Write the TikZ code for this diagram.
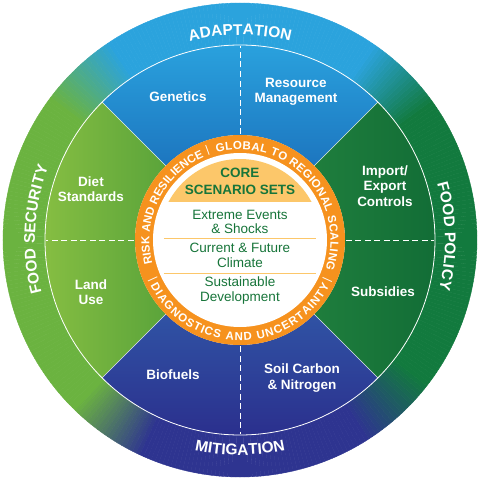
\documentclass[tikz,border=0pt]{standalone}
\usepackage{fontspec}
\setmainfont{Liberation Sans}
\usetikzlibrary{decorations.text}
\definecolor{B1}{HTML}{2BA3DD}
\definecolor{G1}{HTML}{6BB340}
\definecolor{G2}{HTML}{127A3E}
\definecolor{B2}{HTML}{2E3490}
\definecolor{topA}{HTML}{2AA2DE}
\definecolor{topB}{HTML}{1C74BE}
\definecolor{leftA}{HTML}{86BE42}
\definecolor{leftB}{HTML}{59A33A}
\definecolor{rightA}{HTML}{1F7E3D}
\definecolor{rightB}{HTML}{126D36}
\definecolor{botA}{HTML}{3054A5}
\definecolor{botB}{HTML}{2B2F8D}
\definecolor{orng}{HTML}{F6921E}
\definecolor{yel}{HTML}{FCC76A}
\definecolor{dgreen}{HTML}{17753A}
\tikzset{
  sectxt/.style={text=white, font=\bfseries\fontsize{13.5}{15.5}\selectfont, align=center, inner sep=0pt},
  coretxt/.style={text=dgreen, font=\bfseries\fontsize{13.5}{17}\selectfont, align=center, inner sep=0pt},
  ctrtxt/.style={text=dgreen, font=\fontsize{13.5}{14.5}\selectfont, align=center, inner sep=0pt},
  septxt/.style={text=white, font=\fontsize{11}{13}\selectfont, inner sep=0pt},
  divline/.style={white, line width=0.6pt, opacity=0.8},
  dashline/.style={white, line width=0.8pt, dash pattern=on 6pt off 3.5pt},
}
\begin{document}
\begin{tikzpicture}[x=1pt,y=1pt]
\useasboundingbox (-240,-240) rectangle (240,240);
% outer ring with angular colour blend
\foreach \a in {0,...,359}{
  \ifnum\a<35 \colorlet{sl}{G2}\else
  \ifnum\a<55 \pgfmathtruncatemacro\p{(\a-35)*5}\colorlet{sl}{B1!\p!G2}\else
  \ifnum\a<123 \colorlet{sl}{B1}\else
  \ifnum\a<143 \pgfmathtruncatemacro\p{(\a-123)*5}\colorlet{sl}{G1!\p!B1}\else
  \ifnum\a<225 \colorlet{sl}{G1}\else
  \ifnum\a<245 \pgfmathtruncatemacro\p{(\a-225)*5}\colorlet{sl}{B2!\p!G1}\else
  \ifnum\a<302 \colorlet{sl}{B2}\else
  \ifnum\a<322 \pgfmathtruncatemacro\p{(\a-302)*5}\colorlet{sl}{G2!\p!B2}\else
  \colorlet{sl}{G2}\fi\fi\fi\fi\fi\fi\fi\fi
  \fill[sl, draw=sl, line width=0.4pt] (\a:195) -- (\a:237) arc[start angle=\a, end angle=\a+1, radius=237] -- (\a+1:195) arc[start angle=\a+1, end angle=\a, radius=195] -- cycle;
}
% inner sectors
\begin{scope}
\clip (45:105) -- (45:195) arc[start angle=45,end angle=135,radius=195] -- (135:105) arc[start angle=135,end angle=45,radius=105] -- cycle;
\shade[top color=topA, bottom color=topB] (-200,70) rectangle (200,197);
\end{scope}
\begin{scope}
\clip (135:105) -- (135:195) arc[start angle=135,end angle=225,radius=195] -- (225:105) arc[start angle=225,end angle=135,radius=105] -- cycle;
\shade[left color=leftA, right color=leftB] (-197,-200) rectangle (-70,200);
\end{scope}
\begin{scope}
\clip (-45:105) -- (-45:195) arc[start angle=-45,end angle=45,radius=195] -- (45:105) arc[start angle=45,end angle=-45,radius=105] -- cycle;
\shade[left color=rightA, right color=rightB] (70,-200) rectangle (197,200);
\end{scope}
\begin{scope}
\clip (225:105) -- (225:195) arc[start angle=225,end angle=315,radius=195] -- (315:105) arc[start angle=315,end angle=225,radius=105] -- cycle;
\shade[top color=botA, bottom color=botB] (-200,-197) rectangle (200,-70);
\end{scope}
% sector divisions
\foreach \a in {45,135,225,315}{\draw[divline] (\a:104) -- (\a:195);}
\foreach \a in {0,90,180,270}{\draw[dashline] (\a:106) -- (\a:194);}
\draw[white, line width=0.8pt] (0,0) circle (195);
% core
\fill[orng] (0,0) circle (105);
\fill[white] (0,0) circle (87);
\begin{scope}
\clip (0,0) circle (81);
\fill[yel] (-90,38) rectangle (90,90);
\end{scope}
\draw[yel, line width=1pt] (-76,2) -- (76,2);
\draw[yel, line width=1pt] (-76,-33) -- (76,-33);
% orange ring texts
\path[decorate, decoration={text along path, text color=white, text align=fit to path,
  text={|\bfseries\fontsize{11.5}{13}\selectfont|RISK AND RESILIENCE}}]
  (195:90.5) arc[start angle=195, end angle=113.5, radius=90.5];
\path[decorate, decoration={text along path, text color=white, text align=fit to path,
  text={|\bfseries\fontsize{11.5}{13}\selectfont|GLOBAL TO REGIONAL SCALING}}]
  (105:90.5) arc[start angle=105, end angle=-19, radius=90.5];
\path[decorate, decoration={text along path, text color=white, text align=fit to path,
  text={|\bfseries\fontsize{11.5}{13}\selectfont|DIAGNOSTICS AND UNCERTAINTY}}]
  (207:100.5) arc[start angle=207, end angle=333, radius=100.5];
\node[septxt, rotate=20] (sepa) at (110:95) {|};
\node[septxt, rotate=114.5] (sepb) at (204.5:96) {|};
\node[septxt, rotate=245.5] (sepc) at (335.5:96) {|};
% outer ring texts
\path[decorate, decoration={text along path, text color=white, text align=center,
  text={|\bfseries\fontsize{15.5}{18}\selectfont|ADAPTATION}}]
  (125:205) arc[start angle=125, end angle=55, radius=205];
\path[decorate, decoration={text along path, text color=white, text align=center,
  text={|\bfseries\fontsize{15.5}{18}\selectfont|FOOD SECURITY}}]
  (212:205) arc[start angle=212, end angle=142, radius=205];
\path[decorate, decoration={text along path, text color=white, text align=center,
  text={|\bfseries\fontsize{15.5}{18}\selectfont|FOOD POLICY}}]
  (36:205) arc[start angle=36, end angle=-34, radius=205];
\path[decorate, decoration={text along path, text color=white, text align=center,
  text={|\bfseries\fontsize{15.5}{18}\selectfont|MITIGATION}}]
  (235:215) arc[start angle=235, end angle=305, radius=215];
% sector labels
\node[sectxt] (gen) at (-62,143) {Genetics};
\node[sectxt] (res) at (56,148) {Resource\\Management};
\node[sectxt] (diet) at (-149,51) {Diet\\Standards};
\node[sectxt] (imp) at (145,54) {Import/\\Export\\Controls};
\node[sectxt] (land) at (-149,-52) {Land\\Use};
\node[sectxt] (sub) at (143,-52) {Subsidies};
\node[sectxt] (bio) at (-67,-135) {Biofuels};
\node[sectxt] (soil) at (62,-138) {Soil Carbon\\\& Nitrogen};
% centre texts
\node[coretxt] (core) at (0,58.5) {CORE\\SCENARIO SETS};
\node[ctrtxt] (ext) at (0,18) {Extreme Events\\\& Shocks};
\node[ctrtxt] (cur) at (0,-15.5) {Current \& Future\\Climate};
\node[ctrtxt] (sus) at (0,-50.5) {Sustainable\\Development};
\end{tikzpicture}
\end{document}
